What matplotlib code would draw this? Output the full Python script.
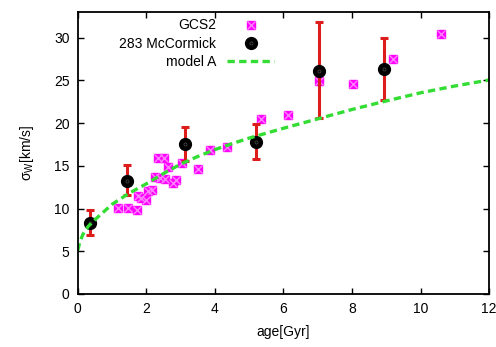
import numpy as np
import matplotlib
matplotlib.use('Agg')
from matplotlib import pyplot as plt

plt.rcParams['font.family'] = ['Liberation Sans', 'DejaVu Sans']
plt.rcParams['font.size'] = 10

# GCS2 stars
gcs_age = [1.16, 1.45, 1.72, 1.75, 1.85, 2.0, 2.05, 2.15, 2.26, 2.41, 2.55,
           2.35, 2.51, 2.63, 2.77, 2.87, 3.05, 3.5, 3.85, 4.36, 5.34, 6.13,
           7.05, 8.04, 9.2, 10.6]
gcs_sig = [10.1, 10.1, 9.8, 11.5, 11.2, 11.0, 12.0, 12.2, 13.7, 13.6, 13.5,
           15.95, 15.95, 14.85, 13.0, 13.3, 15.3, 14.65, 16.85, 17.2, 20.5, 21.0,
           24.95, 24.6, 27.5, 30.4]

# 283 McCormick dwarfs, binned
mc_age = [0.36, 1.44, 3.14, 5.19, 7.04, 8.92]
mc_sig = [8.3, 13.2, 17.6, 17.85, 26.1, 26.3]
mc_lo = [6.9, 11.55, 15.6, 15.75, 20.6, 22.75]
mc_hi = [9.8, 15.05, 19.6, 19.9, 31.9, 30.0]

# model A heating curve
mod_age = [0, 0.05, 0.15, 0.3, 0.5, 0.75, 1, 1.5, 2, 2.5, 3, 3.5, 4, 4.5,
           5, 6, 7, 8, 9, 10, 11, 12]
mod_sig = [5.1, 6.0, 7.0, 7.9, 8.7, 9.6, 10.5, 11.8, 12.9, 14.1, 15.2, 16.1,
           16.9, 17.6, 18.25, 19.4, 20.5, 21.6, 22.6, 23.55, 24.35, 25.05]

fig = plt.figure(figsize=(4.96, 3.47), dpi=100)
ax = fig.add_axes([0.157, 0.153, 0.829, 0.812])

sq, = ax.plot(gcs_age, gcs_sig, ls='none', marker='s', ms=6, mfc='#ff00ff',
              mec='#ff00ff')
xm, = ax.plot(gcs_age, gcs_sig, ls='none', marker='x', ms=5.5, mew=1.0,
              color='#ff80ff')

yerr = [np.array(mc_sig) - np.array(mc_lo), np.array(mc_hi) - np.array(mc_sig)]
ax.errorbar(mc_age, mc_sig, yerr=yerr, fmt='none', ecolor='#dd1c1c',
            elinewidth=2.2, capsize=3, capthick=2.2)
circ, = ax.plot(mc_age, mc_sig, ls='none', marker='o', ms=8.5, mfc='black',
                mec='black')
dot, = ax.plot(mc_age, mc_sig, ls='none', marker='o', ms=2.2, mfc='none',
               mec='#444444', mew=0.6)

line, = ax.plot(mod_age, mod_sig, color='#33dd33', lw=2.4, dashes=(2.2, 1.3))

ax.set_xlim(0, 12)
ax.set_ylim(0, 33)
ax.set_xticks(range(0, 13, 2))
ax.set_yticks(range(0, 31, 5))
ax.tick_params(direction='in', length=4, width=1, top=True, right=True, pad=6)
for s in ax.spines.values():
    s.set_linewidth(1.3)

ax.set_xlabel('age[Gyr]', labelpad=6)
ax.set_ylabel(r'$\mathregular{\sigma_W}$[km/s]', labelpad=13)

ax.legend([(sq, xm), (circ, dot), line], ['GCS2', '283 McCormick', 'model A'],
          loc='upper right', bbox_to_anchor=(0.493, 1.0), frameon=False,
          markerfirst=False, handlelength=3.4, handletextpad=0.8,
          labelspacing=0.3, borderaxespad=0.05)

fig.savefig('out.png', dpi=100)
